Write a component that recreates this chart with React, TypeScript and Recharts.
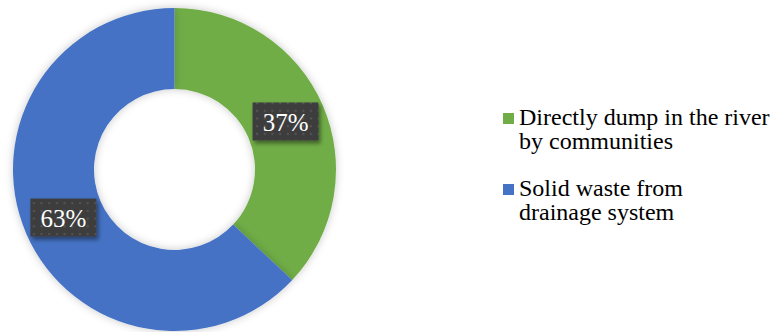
import { PieChart, Pie, Cell, Legend } from 'recharts'

const categories = ['Directly dump in the river by communities', 'Solid waste from drainage system']
const legendLines = [
  ['Directly dump in the river', 'by communities'],
  ['Solid waste from', 'drainage system'],
]
const shares = [37, 63]
const colors = ['#70AD47', '#4472C4']

const data = categories.map((name, i) => ({ name, value: shares[i] }))

const serif = '"Liberation Serif", "Times New Roman", serif'

const RADIAN = Math.PI / 180

// dark boxed percentage label, like the Excel callout style
const renderLabel = (props: any) => {
  const { cx, cy, midAngle, innerRadius, outerRadius, percent } = props
  const r = (innerRadius + outerRadius) / 2
  const x = cx + r * Math.cos(-midAngle * RADIAN)
  const y = cy + r * Math.sin(-midAngle * RADIAN)
  const w = 66
  const h = 38
  return (
    <g>
      <rect x={x - w / 2} y={y - h / 2} width={w} height={h} fill="url(#dots)" filter="url(#boxShadow)" />
      <text
        x={x}
        y={y + 1}
        textAnchor="middle"
        dominantBaseline="central"
        fill="#ffffff"
        style={{ fontFamily: serif, fontSize: 25 }}
      >
        {`${Math.round(percent * 100)}%`}
      </text>
    </g>
  )
}

const renderLegend = () => (
  <div style={{ fontFamily: serif, fontSize: 24, lineHeight: '24px', color: '#000' }}>
    {legendLines.map((lines, i) => (
      <div key={i} style={{ position: 'relative', paddingLeft: 16, marginBottom: i === 0 ? 23 : 0 }}>
        <span
          style={{
            position: 'absolute',
            left: 0,
            top: 8,
            width: 11,
            height: 11,
            background: colors[i],
          }}
        />
        {lines.map((l, j) => (
          <div key={j}>{l}</div>
        ))}
      </div>
    ))}
  </div>
)

export default function App() {
  return (
    <div style={{ position: 'absolute', left: 0, top: 0, width: 773, height: 332, background: '#fff' }}>
      <PieChart width={773} height={332} margin={{ top: 0, right: 0, bottom: 0, left: 0 }}>
        <defs>
          <pattern id="dots" width="7.7" height="7.7" patternUnits="userSpaceOnUse">
            <rect width="7.7" height="7.7" fill="#3d3d3d" />
            <rect x="2" y="2" width="2" height="2" fill="#555555" />
          </pattern>
          <filter id="ringShadow" x="-20%" y="-20%" width="140%" height="140%">
            <feDropShadow dx="0" dy="0" stdDeviation="4" floodColor="#000" floodOpacity="0.22" />
          </filter>
          <filter id="boxShadow" x="-30%" y="-30%" width="160%" height="160%">
            <feDropShadow dx="2" dy="3" stdDeviation="2" floodColor="#000" floodOpacity="0.45" />
          </filter>
        </defs>
        <Pie
          data={data}
          dataKey="value"
          nameKey="name"
          cx={174.5}
          cy={169.5}
          innerRadius={80.5}
          outerRadius={161.5}
          startAngle={90}
          endAngle={-270}
          stroke="none"
          label={renderLabel}
          labelLine={false}
          isAnimationActive={false}
          style={{ filter: 'url(#ringShadow)' }}
        >
          {data.map((d, i) => (
            <Cell key={d.name} fill={colors[i]} />
          ))}
        </Pie>
        <Legend
          layout="vertical"
          content={renderLegend}
          wrapperStyle={{ position: 'absolute', left: 503, top: 105, width: 270 }}
        />
      </PieChart>
    </div>
  )
}
